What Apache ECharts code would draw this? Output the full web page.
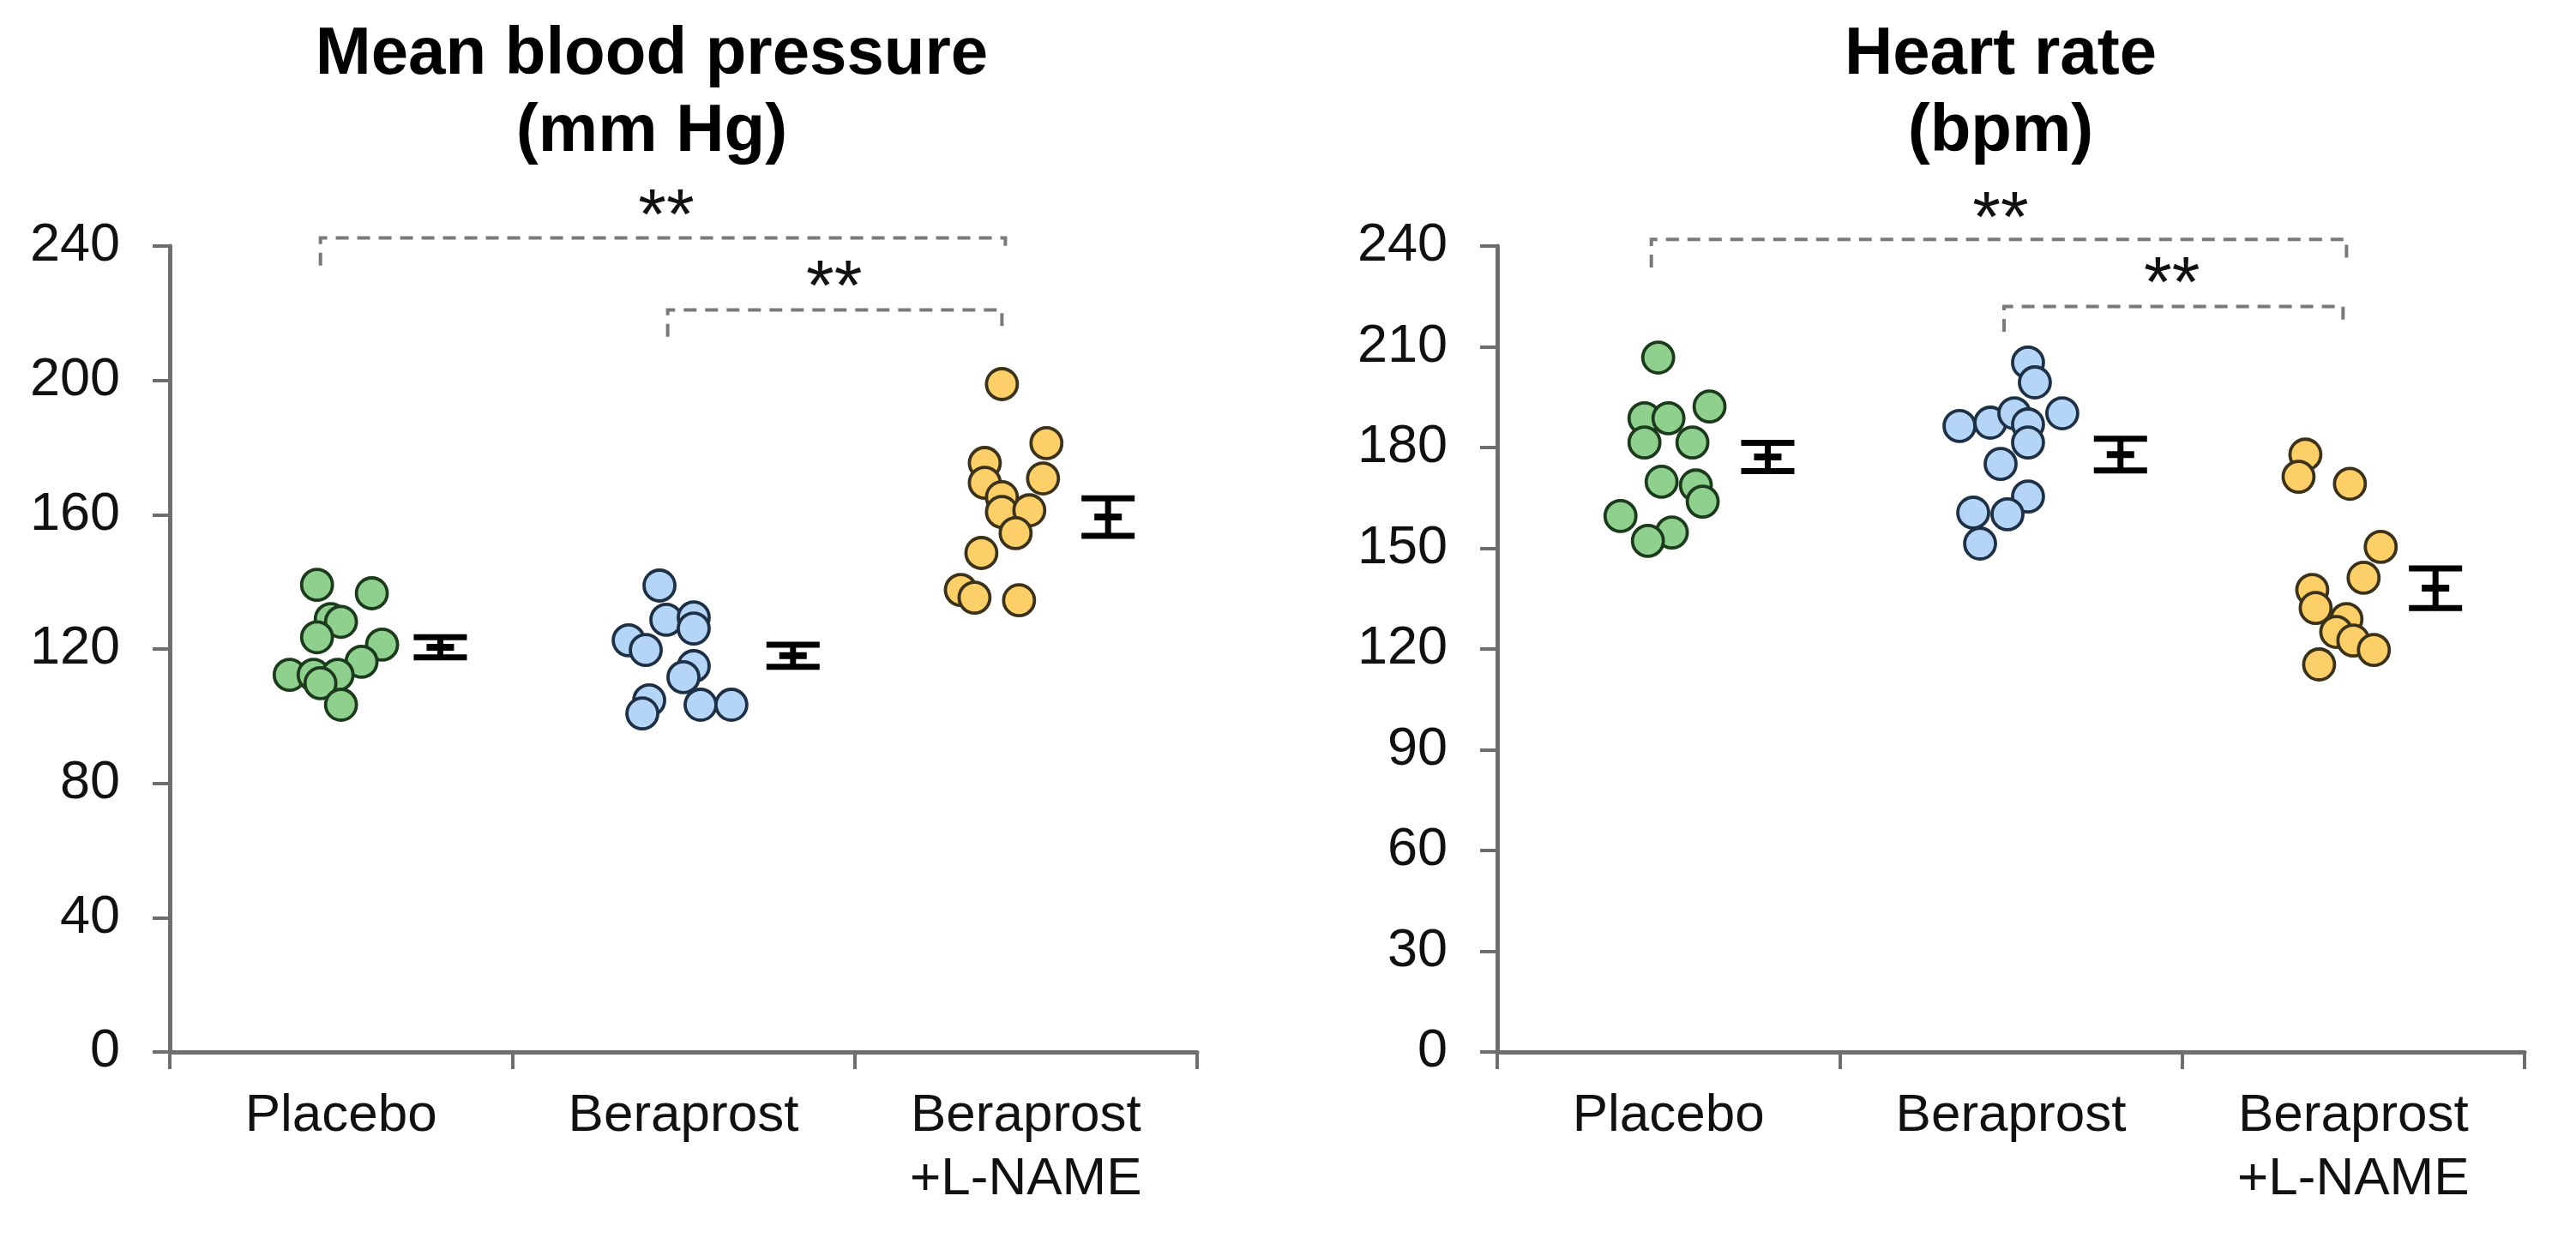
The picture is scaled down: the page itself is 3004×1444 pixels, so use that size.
<!DOCTYPE html>
<html>
<head>
<meta charset="utf-8">
<script src="https://cdn.jsdelivr.net/npm/echarts@6/dist/echarts.min.js"></script>
<style>
html,body{margin:0;padding:0;background:#fff;}
#chart{width:3004px;height:1444px;}
</style>
</head>
<body>
<div id="chart"></div>
<script>
// ---------- data ----------
const categories = ['Placebo', 'Beraprost', 'Beraprost\n+L-NAME'];
const mbpYAxis = [0, 240, 40];
const hrYAxis = [0, 240, 30];

// [jittered x position (category units, 0..3), value]
const mbpPlacebo = [[0.43,139.1],[0.59,136.6],[0.47,128.9],[0.50,128.1],[0.43,123.5],[0.62,121.3],[0.56,116.2],[0.35,112.3],[0.42,112.3],[0.49,112.3],[0.44,109.8],[0.50,103.4]];
const mbpBeraprost = [[1.43,138.9],[1.45,128.7],[1.53,129.4],[1.53,126.1],[1.34,122.6],[1.39,119.7],[1.53,114.9],[1.50,111.6],[1.40,104.7],[1.38,100.8],[1.55,103.4],[1.64,103.4]];
const mbpLname = [[2.43,198.9],[2.56,181.3],[2.38,175.4],[2.38,169.5],[2.55,170.8],[2.43,165.2],[2.43,160.8],[2.51,161.3],[2.47,154.5],[2.37,148.6],[2.31,137.6],[2.35,135.3],[2.48,134.5]];

const hrPlacebo = [[0.47,206.8],[0.62,192.2],[0.43,188.7],[0.50,188.7],[0.43,181.5],[0.57,181.5],[0.48,169.8],[0.58,168.7],[0.60,163.9],[0.36,159.6],[0.51,154.7],[0.44,152.2]];
const hrBeraprost = [[1.55,205.3],[1.57,199.4],[1.65,190.2],[1.35,186.4],[1.44,187.4],[1.51,190.2],[1.55,186.9],[1.55,181.5],[1.47,175.1],[1.55,165.4],[1.49,160.1],[1.39,160.6],[1.41,151.4]];
const hrLname = [[2.36,177.9],[2.34,171.3],[2.49,169.2],[2.58,150.4],[2.53,141.2],[2.38,137.6],[2.39,132.2],[2.48,128.9],[2.45,125.1],[2.50,122.5],[2.56,119.7],[2.40,115.4]];

const errX = [0.79, 1.82, 2.74];
const mbpMean = [120.5, 118.0, 159.3];
const mbpSem = [3.0, 3.3, 5.6];
const hrMean = [177.2, 177.9, 138.1];
const hrSem = [4.2, 4.7, 5.9];

// [x start, x end, bar level, left drop end, right drop end]
const mbpBrackets = [[0.44, 2.44, 242.4, 234.2, 237.7], [1.454, 2.43, 221, 213, 215]];
const hrBrackets = [[0.45, 2.48, 242, 233.6, 236.4], [1.48, 2.47, 222, 214.5, 216]];
const mbpStars = [[1.45, 253], [1.94, 231.8]];
const hrStars = [[1.47, 252.2], [1.97, 232.8]];

const titles = [['Mean blood pressure', '(mm Hg)'], ['Heart rate', '(bpm)']];

// ---------- styles ----------
const FONT = '"Liberation Sans", Arial, Helvetica, sans-serif';
const AXIS_COLOR = '#6e6e6e';
const groupStyles = [
  { color: '#8fd08f', borderColor: '#1c3a1c' },
  { color: '#b5d5f6', borderColor: '#1e3046' },
  { color: '#fdcf68', borderColor: '#3b3219' }
];

const chart = echarts.init(document.getElementById('chart'), null, { renderer: 'canvas' });

function catAxis(gridIndex) {
  return {
    type: 'category', gridIndex, data: categories, boundaryGap: true,
    axisLine: { show: true, lineStyle: { color: AXIS_COLOR, width: 5 } },
    axisTick: { show: true, inside: false, length: 20, lineStyle: { color: AXIS_COLOR, width: 4 } },
    axisLabel: { interval: 0, margin: 38, fontFamily: FONT, fontSize: 62, lineHeight: 74, color: '#111' },
    splitLine: { show: false }
  };
}
function valXAxis(gridIndex) {
  return { type: 'value', gridIndex, min: 0, max: 3, show: false, splitLine: { show: false } };
}
function valYAxis(gridIndex, spec) {
  return {
    type: 'value', gridIndex, min: spec[0], max: spec[1], interval: spec[2],
    axisLine: { show: true, lineStyle: { color: AXIS_COLOR, width: 5 } },
    axisTick: { show: true, inside: false, length: 20, lineStyle: { color: AXIS_COLOR, width: 4 } },
    axisLabel: { margin: 58, fontFamily: FONT, fontSize: 63, color: '#111' },
    splitLine: { show: false }
  };
}

function scatter(data, g, xi, yi) {
  return {
    type: 'scatter', xAxisIndex: xi, yAxisIndex: yi, data,
    symbol: 'circle', symbolSize: 36,
    itemStyle: { color: groupStyles[g].color, borderColor: groupStyles[g].borderColor, borderWidth: 3.8, opacity: 1 },
    emphasis: { disabled: true }, silent: true, z: 3
  };
}

function errorBars(means, sems, xi, yi) {
  const data = means.map((m, i) => [errX[i], m, sems[i]]);
  return {
    type: 'custom', xAxisIndex: xi, yAxisIndex: yi, data, silent: true, z: 4,
    encode: { x: 0, y: 1 },
    renderItem: function (params, api) {
      const x = api.value(0), m = api.value(1), s = api.value(2);
      const c = api.coord([x, m]);
      const t = api.coord([x, m + s]);
      const b = api.coord([x, m - s]);
      const cap = 31, mid = 16;
      const st = { stroke: '#000', lineWidth: 7 };
      return {
        type: 'group', children: [
          { type: 'line', shape: { x1: c[0], y1: t[1], x2: c[0], y2: b[1] }, style: st },
          { type: 'line', shape: { x1: c[0] - cap, y1: t[1], x2: c[0] + cap, y2: t[1] }, style: st },
          { type: 'line', shape: { x1: c[0] - cap, y1: b[1], x2: c[0] + cap, y2: b[1] }, style: st },
          { type: 'line', shape: { x1: c[0] - mid, y1: c[1], x2: c[0] + mid, y2: c[1] }, style: { stroke: '#000', lineWidth: 8 } }
        ]
      };
    }
  };
}

function brackets(data, xi, yi) {
  return {
    type: 'custom', xAxisIndex: xi, yAxisIndex: yi, data, silent: true, clip: false, z: 2,
    encode: { x: [0, 1], y: [2, 3, 4] },
    renderItem: function (params, api) {
      const x1 = api.value(0), x2 = api.value(1), y = api.value(2), yl = api.value(3), yr = api.value(4);
      const p1 = api.coord([x1, yl]), p2 = api.coord([x1, y]), p3 = api.coord([x2, y]), p4 = api.coord([x2, yr]);
      return {
        type: 'polyline',
        shape: { points: [p1, p2, p3, p4] },
        style: { stroke: '#7a7a7a', lineWidth: 4, lineDash: [15, 10], fill: null }
      };
    }
  };
}

function stars(data, xi, yi) {
  return {
    type: 'custom', xAxisIndex: xi, yAxisIndex: yi, data, silent: true, clip: false, z: 2,
    encode: { x: 0, y: 1 },
    renderItem: function (params, api) {
      const p = api.coord([api.value(0), api.value(1)]);
      const fs = 84;
      return {
        type: 'text', x: p[0], y: p[1] + fs * 0.23,
        style: { text: '**', fontFamily: FONT, fontSize: fs, fill: '#111', align: 'center', verticalAlign: 'middle' }
      };
    }
  };
}

const titleCenters = [760, 2333];
const graphics = [];
titles.forEach((t, i) => {
  graphics.push({ type: 'text', x: titleCenters[i], y: 64, style: { text: t[0], fontFamily: FONT, fontWeight: 'bold', fontSize: 78, fill: '#000', align: 'center', verticalAlign: 'middle' } });
  graphics.push({ type: 'text', x: titleCenters[i], y: 154, style: { text: t[1], fontFamily: FONT, fontWeight: 'bold', fontSize: 78, fill: '#000', align: 'center', verticalAlign: 'middle' } });
});

const option = {
  backgroundColor: '#fff',
  animation: false,
  grid: [
    { left: 198, top: 287, width: 1198, height: 940, containLabel: false },
    { left: 1746, top: 287, width: 1198, height: 940, containLabel: false }
  ],
  xAxis: [catAxis(0), valXAxis(0), catAxis(1), valXAxis(1)],
  yAxis: [valYAxis(0, mbpYAxis), valYAxis(1, hrYAxis)],
  graphic: graphics,
  series: [
    brackets(mbpBrackets, 1, 0),
    stars(mbpStars, 1, 0),
    scatter(mbpPlacebo, 0, 1, 0),
    scatter(mbpBeraprost, 1, 1, 0),
    scatter(mbpLname, 2, 1, 0),
    errorBars(mbpMean, mbpSem, 1, 0),
    brackets(hrBrackets, 3, 1),
    stars(hrStars, 3, 1),
    scatter(hrPlacebo, 0, 3, 1),
    scatter(hrBeraprost, 1, 3, 1),
    scatter(hrLname, 2, 3, 1),
    errorBars(hrMean, hrSem, 3, 1)
  ]
};
chart.setOption(option);
</script>
</body>
</html>
